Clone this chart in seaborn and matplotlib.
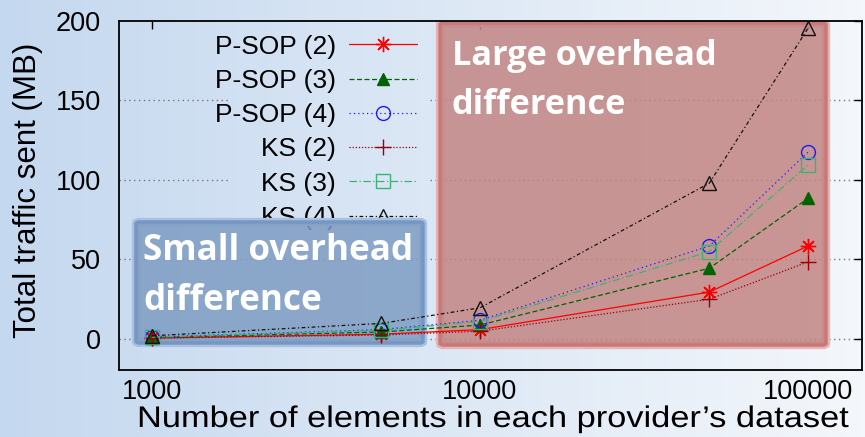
import numpy as np
import pandas as pd
import matplotlib
matplotlib.use("Agg")
import matplotlib.pyplot as plt
import seaborn as sns
from matplotlib.patches import FancyBboxPatch
from matplotlib.patheffects import AbstractPathEffect
from matplotlib.path import Path
from matplotlib.transforms import Affine2D, IdentityTransform
from matplotlib.ticker import NullLocator, FixedLocator, FixedFormatter

# ---- data -------------------------------------------------------------
elements = [1000, 5000, 10000, 50000, 100000]
psop_2 = [0.6, 3.0, 5.9, 29.5, 58.5]
psop_3 = [0.9, 4.4, 8.8, 44.5, 88.5]
psop_4 = [1.2, 5.9, 11.8, 58.5, 117.5]
ks_2 = [0.5, 2.5, 4.9, 25.0, 48.5]
ks_3 = [1.1, 5.5, 11.0, 55.0, 109.5]
ks_4 = [2.0, 9.8, 19.6, 98.0, 195.5]

series_names = ["P-SOP (2)", "P-SOP (3)", "P-SOP (4)", "KS (2)", "KS (3)", "KS (4)"]
series_values = [psop_2, psop_3, psop_4, ks_2, ks_3, ks_4]

x_ticks = [1000, 10000, 100000]
x_tick_labels = ["1000", "10000", "100000"]
y_ticks = [0, 50, 100, 150, 200]

df = pd.DataFrame({
    "elements": np.tile(elements, len(series_names)),
    "traffic": np.concatenate(series_values),
    "series": np.repeat(series_names, len(elements)),
})

# ---- styling ----------------------------------------------------------
styles = {
    "P-SOP (2)": dict(color="#ff0000", ls="-", marker=(8, 2, 0), ms=11, mfc="none"),
    "P-SOP (3)": dict(color="#006400", ls=(0, (4, 2)), marker="^", ms=8.5, mfc="#006400"),
    "P-SOP (4)": dict(color="#1a1aff", ls=(0, (1, 2.5)), marker="o", ms=10, mfc="none"),
    "KS (2)": dict(color="#9b0000", ls=(0, (1, 1.5)), marker="+", ms=11, mfc="none"),
    "KS (3)": dict(color="#3cb371", ls=(0, (6, 2, 1, 2)), marker="s", ms=9.5, mfc="none"),
    "KS (4)": dict(color="#111111", ls=(0, (3, 2, 1, 2)), marker="^", ms=9.5, mfc="none"),
}


class StretchX(AbstractPathEffect):
    """Stretch glyph outlines horizontally about the text origin."""

    def __init__(self, sx):
        super().__init__()
        self.sx = sx

    def draw_path(self, renderer, gc, tpath, affine, rgbFace=None):
        renderer.draw_path(gc, tpath, Affine2D().scale(self.sx, 1.0) + affine, rgbFace)


sns.set_theme(style="white")
plt.rcParams["font.family"] = ["Liberation Sans", "DejaVu Sans"]
plt.rcParams["text.color"] = "black"

W, H = 865, 437
fig = plt.figure(figsize=(W / 100, H / 100), dpi=100)

# slide-like background gradient
bg = fig.add_axes([0, 0, 1, 1], zorder=-10)
bg.axis("off")
left_col = np.array([196, 216, 239]) / 255
right_col = np.array([244, 247, 251]) / 255
t = np.linspace(0, 1, 256)[None, :, None]
grad = left_col[None, None, :] * (1 - t) + right_col[None, None, :] * t
grad = np.repeat(grad, 2, axis=0)
bg.imshow(grad, aspect="auto", extent=[0, 1, 0, 1])
bg.set_xlim(0, 1)
bg.set_ylim(0, 1)

ax = fig.add_axes([119 / W, 1 - 370 / H, (862 - 119) / W, (370 - 21) / H])
ax.patch.set_alpha(0)

for name in series_names:
    st = styles[name]
    sub = df[df["series"] == name]
    sns.lineplot(data=sub, x="elements", y="traffic", ax=ax, label=name,
                 color=st["color"], marker=st["marker"], markersize=st["ms"],
                 markerfacecolor=st["mfc"], markeredgecolor=st["color"],
                 markeredgewidth=1.0, linewidth=0.9, zorder=4)
    ax.lines[-1].set_linestyle(st["ls"])

ax.set_xscale("log")
ax.set_xlim(794, 146000)
ax.set_ylim(-19.5, 200)
ax.xaxis.set_major_locator(FixedLocator(x_ticks))
ax.xaxis.set_major_formatter(FixedFormatter(x_tick_labels))
ax.xaxis.set_minor_locator(NullLocator())
ax.set_yticks(y_ticks)

ax.tick_params(axis="both", which="major", direction="in", length=6, width=1.0,
               top=True, right=True, labelsize=19.5, colors="black")
ax.tick_params(axis="x", pad=6.5)
ax.tick_params(axis="y", pad=13)
for s in ax.spines.values():
    s.set_color("black")
    s.set_linewidth(1.3)

grid_lines = [ax.axhline(yv, color="#777777", lw=1.0, ls=(0, (1, 2.5)), zorder=0.5)
              for yv in y_ticks[:-1]]

ax.set_xlabel("")
ax.set_ylabel("")
fig.text(36 / W, 1 - 190 / H, "Total traffic sent (MB)", fontsize=22.5, rotation=90,
         rotation_mode="anchor", ha="center", va="baseline", color="black")
xlab = fig.text(137 / W, 1 - 427 / H, "Number of elements in each provider\u2019s dataset",
                fontsize=21.5, ha="left", va="baseline", color="black")

leg = ax.legend(loc="upper right",
                bbox_to_anchor=((428 - 119) / (862 - 119), 1 - 3 / (370 - 21)),
                markerfirst=False, fontsize=19, handlelength=2.6, handletextpad=0.5,
                labelspacing=0.39, borderpad=0.4, borderaxespad=0, frameon=False)
leg.set_zorder(1.5)

# highlighted regions
def region(x0, y0, x1, y1, face, edge, glow):
    for lw, col, z in ((6, glow, 2.0), (2.5, edge, 2.01)):
        p = FancyBboxPatch((x0 / W, 1 - y1 / H), (x1 - x0) / W, (y1 - y0) / H,
                           boxstyle="round,pad=0,rounding_size=0.004",
                           transform=fig.transFigure, facecolor="none",
                           edgecolor=col, lw=lw, zorder=z)
        ax.add_patch(p)
    p = FancyBboxPatch((x0 / W, 1 - y1 / H), (x1 - x0) / W, (y1 - y0) / H,
                       boxstyle="round,pad=0,rounding_size=0.004",
                       transform=fig.transFigure, facecolor=face, alpha=0.85,
                       edgecolor="none", zorder=2.0)
    ax.add_patch(p)

region(136, 222, 423, 343, "#7e9cc2", "#7696c4", "#a9c1df")
region(440, 23, 826, 345, "#c28583", "#c97878", "#e6b4b4")

note_kw = dict(color="white", fontweight="bold", family=["Open Sans", "DejaVu Sans"],
               va="baseline", ha="left", zorder=10)
big = [
    fig.text(452 / W, 1 - 65 / H, "Large overhead", fontsize=24, **note_kw),
    fig.text(452 / W, 1 - 114 / H, "difference", fontsize=24, **note_kw),
    fig.text(143 / W, 1 - 260 / H, "Small overhead", fontsize=24, **note_kw),
    fig.text(143 / W, 1 - 310 / H, "difference", fontsize=24, **note_kw),
]

fig.canvas.draw()
r = fig.canvas.get_renderer()

# fit widths of the wide axis label and the callout text
w = xlab.get_window_extent(r).width
xlab.set_path_effects([StretchX((850 - 137) / w)])
for txt, target in ((big[0], 265), (big[2], 270)):
    cur = txt.get_window_extent(r).width
    txt.set_fontsize(txt.get_fontsize() * target / cur)
big[1].set_fontsize(big[0].get_fontsize())
big[3].set_fontsize(big[2].get_fontsize())

# keep the dotted grid out of the key area
axbb = ax.get_window_extent(r)
kx0, kx1 = 228, 430
ky0, ky1 = H - 235, axbb.y1
outer = [(axbb.x0, axbb.y0), (axbb.x1, axbb.y0), (axbb.x1, axbb.y1), (axbb.x0, axbb.y1), (axbb.x0, axbb.y0)]
inner = [(kx0, ky0), (kx0, ky1), (kx1, ky1), (kx1, ky0), (kx0, ky0)]
codes = [Path.MOVETO, Path.LINETO, Path.LINETO, Path.LINETO, Path.CLOSEPOLY]
clip = Path(outer + inner, codes + codes)
for gl in grid_lines:
    gl.set_clip_path(clip, IdentityTransform())

fig.savefig("out.png", dpi=100)
